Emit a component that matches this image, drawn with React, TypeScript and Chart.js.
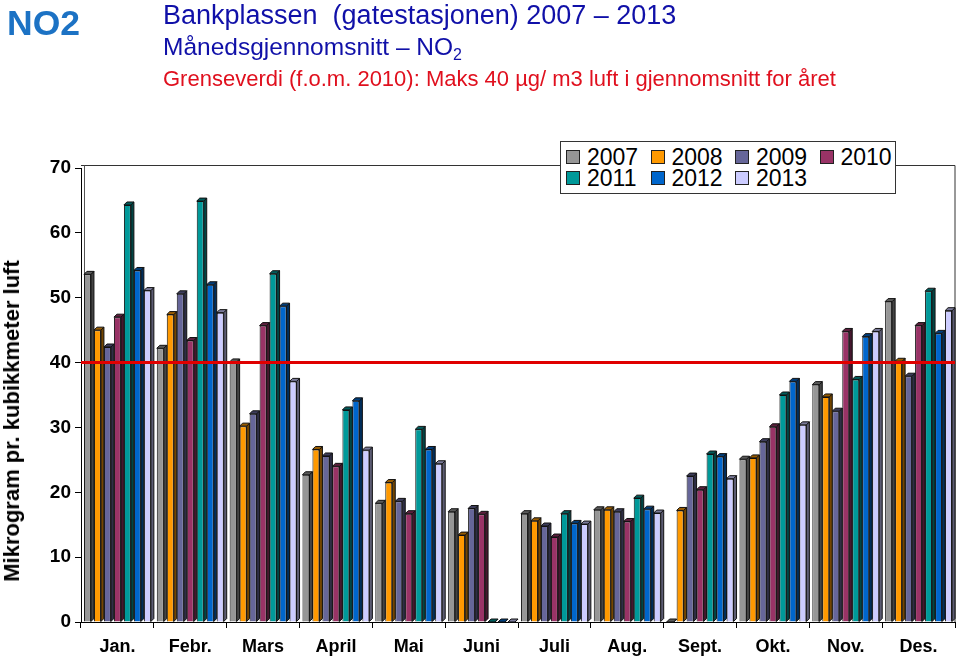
import React, { useEffect, useRef } from "react";
import { Chart, registerables } from "chart.js";

Chart.register(...registerables);

const months = ["Jan.", "Febr.", "Mars", "April", "Mai", "Juni", "Juli", "Aug.", "Sept.", "Okt.", "Nov.", "Des."];
const years = ["2007", "2008", "2009", "2010", "2011", "2012", "2013"];

const v2007 = [53.6, 42.2, 40.1, 22.7, 18.3, 17.0, 16.7, 17.3, 0, 25.1, 36.6, 49.4];
const v2008 = [45.0, 47.4, 30.2, 26.6, 21.5, 13.4, 15.6, 17.3, 17.2, 25.3, 34.7, 40.2];
const v2009 = [42.4, 50.6, 32.1, 25.6, 18.6, 17.5, 14.8, 17.0, 22.5, 27.8, 32.5, 37.9];
const v2010 = [47.0, 43.4, 45.7, 24.0, 16.7, 16.6, 13.1, 15.5, 20.4, 30.1, 44.8, 45.7];
const v2011 = [64.3, 64.9, 53.7, 32.7, 29.7, 0, 16.7, 19.1, 25.9, 35.0, 37.4, 51.0];
const v2012 = [54.2, 52.0, 48.7, 34.1, 26.6, 0, 15.2, 17.4, 25.5, 37.1, 44.0, 44.5];
const v2013 = [51.1, 47.7, 37.1, 26.5, 24.4, 0, 15.1, 16.8, 22.1, 30.4, 44.8, 48.0];

const seriesValues = [v2007, v2008, v2009, v2010, v2011, v2012, v2013];
const seriesColors = ["#969696", "#FF9900", "#666699", "#993366", "#009999", "#0066CC", "#CCCCFF"];

const yMin = 0;
const yMax = 70;
const yStep = 10;
const limitValue = 40;

const FONT = "'Liberation Sans', Arial, Helvetica, sans-serif";
const BAR_PCT = 0.7;

function darken(hex: string, f: number): string {
  const h = hex.replace("#", "");
  const r = Math.round(parseInt(h.slice(0, 2), 16) * f);
  const g = Math.round(parseInt(h.slice(2, 4), 16) * f);
  const b = Math.round(parseInt(h.slice(4, 6), 16) * f);
  return `rgb(${r},${g},${b})`;
}

const bar3d = {
  id: "bar3d",
  afterDatasetDraw(chart: any, args: any) {
    const meta = args.meta;
    if (meta.type !== "bar") return;
    const ctx = chart.ctx;
    const color = chart.data.datasets[args.index].backgroundColor as string;
    const dark = darken(color, 0.6);
    const darker = darken(color, 0.45);
    ctx.save();
    ctx.lineWidth = 1;
    ctx.strokeStyle = "#111";
    ctx.lineJoin = "round";
    meta.data.forEach((el: any) => {
      const p = el.getProps(["x", "y", "base", "width"], true);
      if (p.y == null || isNaN(p.y)) return;
      const w = p.width;
      const d = w * (1 / BAR_PCT - 1);
      const xl = p.x - w / 2;
      const xr = p.x + w / 2;
      ctx.beginPath();
      ctx.moveTo(xr, p.y);
      ctx.lineTo(xr + d, p.y - d);
      ctx.lineTo(xr + d, p.base - d);
      ctx.lineTo(xr, p.base);
      ctx.closePath();
      ctx.fillStyle = darker;
      ctx.fill();
      ctx.stroke();
      ctx.beginPath();
      ctx.moveTo(xl, p.y);
      ctx.lineTo(xl + d, p.y - d);
      ctx.lineTo(xr + d, p.y - d);
      ctx.lineTo(xr, p.y);
      ctx.closePath();
      ctx.fillStyle = dark;
      ctx.fill();
      ctx.stroke();
    });
    ctx.restore();
  },
};

const frameAndLimit = {
  id: "frameAndLimit",
  beforeDatasetsDraw(chart: any) {
    const { ctx, chartArea } = chart;
    ctx.save();
    ctx.strokeStyle = "#333";
    ctx.lineWidth = 1;
    ctx.beginPath();
    ctx.moveTo(chartArea.left, chartArea.top - 2.5);
    ctx.lineTo(chartArea.right, chartArea.top - 2.5);
    ctx.lineTo(chartArea.right, chartArea.bottom);
    ctx.stroke();
    ctx.strokeStyle = "#555";
    ctx.beginPath();
    ctx.moveTo(chartArea.left + 3.5, chartArea.top - 2.5);
    ctx.lineTo(chartArea.left + 3.5, chartArea.bottom - 2);
    ctx.stroke();
    ctx.restore();
  },
  afterDatasetsDraw(chart: any) {
    const { ctx, chartArea, scales } = chart;
    const y = scales.y.getPixelForValue(limitValue);
    ctx.save();
    ctx.strokeStyle = "#E00000";
    ctx.lineWidth = 3;
    ctx.beginPath();
    ctx.moveTo(chartArea.left, y);
    ctx.lineTo(chartArea.right, y);
    ctx.stroke();
    ctx.restore();
  },
};

export default function App() {
  const ref = useRef<HTMLCanvasElement | null>(null);

  useEffect(() => {
    document.body.style.margin = "0";
    if (!ref.current) return;
    Chart.defaults.font.family = FONT;
    const chart = new Chart(ref.current, {
      type: "bar",
      data: {
        labels: months,
        datasets: years.map((yr, i) => ({
          label: yr,
          data: seriesValues[i],
          backgroundColor: seriesColors[i],
          borderColor: "#111",
          borderWidth: 1,
          barPercentage: BAR_PCT,
          categoryPercentage: 0.96,
        })),
      },
      options: {
        responsive: false,
        animation: false,
        devicePixelRatio: 1,
        layout: { padding: { top: 168, right: 5, bottom: 0, left: 0 } },
        plugins: {
          legend: { display: false },
          tooltip: { enabled: false },
        },
        scales: {
          x: {
            grid: { offset: true, drawOnChartArea: false, drawTicks: true, tickLength: 6, color: "#000" },
            border: { display: true, color: "#000", width: 1 },
            ticks: { color: "#000", font: { family: FONT, size: 18, weight: "bold" }, padding: 8, maxRotation: 0, autoSkip: false },
            afterFit: (s: any) => {
              s.height = 34;
            },
          },
          y: {
            min: yMin,
            max: yMax,
            ticks: { stepSize: yStep, color: "#000", font: { family: FONT, size: 19, weight: "bold" }, padding: 4 },
            grid: { drawOnChartArea: false, drawTicks: true, tickLength: 6, color: "#000" },
            border: { display: true, color: "#000", width: 1 },
            title: { display: false },
            afterFit: (s: any) => {
              s.width = 81;
            },
          },
        },
      },
      plugins: [frameAndLimit, bar3d],
    });
    return () => chart.destroy();
  }, []);

  const legendCols = 4;
  return (
    <div style={{ position: "absolute", left: 0, top: 0, width: 960, height: 656, background: "#fff", fontFamily: FONT, overflow: "hidden" }}>
      <canvas ref={ref} width={960} height={656} style={{ position: "absolute", left: 0, top: 0, width: 960, height: 656 }} />
      <div style={{ position: "absolute", left: 7, top: 0, fontSize: 35.5, fontWeight: "bold", color: "#1C72C4", lineHeight: "46px" }}>NO2</div>
      <div style={{ position: "absolute", left: 163, top: 0, fontSize: 27, color: "#1010A8", lineHeight: "30px", whiteSpace: "pre" }}>
        Bankplassen  (gatestasjonen) 2007 – 2013
      </div>
      <div style={{ position: "absolute", left: 163, top: 32.5, fontSize: 24.5, color: "#1010A8", lineHeight: "28px", whiteSpace: "pre" }}>
        Månedsgjennomsnitt – NO<sub style={{ fontSize: 16, verticalAlign: "-5px", lineHeight: 0 }}>2</sub>
      </div>
      <div style={{ position: "absolute", left: 163, top: 66, fontSize: 22, color: "#E0101E", lineHeight: "26px", whiteSpace: "pre" }}>
        Grenseverdi (f.o.m. 2010): Maks 40 µg/ m3 luft i gjennomsnitt for året
      </div>
      <div
        style={{
          position: "absolute",
          left: 12,
          top: 421,
          transform: "translate(-50%, -50%) rotate(-90deg)",
          fontSize: 22,
          fontWeight: "bold",
          color: "#000",
          whiteSpace: "nowrap",
          lineHeight: "26px",
        }}
      >
        Mikrogram pr. kubikkmeter luft
      </div>
      <div
        style={{
          position: "absolute",
          left: 560,
          top: 141,
          width: 336,
          height: 53,
          boxSizing: "border-box",
          border: "1px solid #333",
          background: "#fff",
        }}
      >
        {years.map((yr, i) => {
          const col = i % legendCols;
          const row = Math.floor(i / legendCols);
          return (
            <div
              key={yr}
              style={{
                position: "absolute",
                left: 5 + col * 84.5,
                top: 4 + row * 21,
                height: 22,
                display: "flex",
                alignItems: "center",
                whiteSpace: "nowrap",
              }}
            >
              <span
                style={{
                  display: "inline-block",
                  width: 14,
                  height: 14,
                  boxSizing: "border-box",
                  border: "1px solid #222",
                  background: seriesColors[i],
                  marginRight: 7,
                }}
              />
              <span style={{ fontSize: 23, lineHeight: "22px", color: "#000" }}>{yr}</span>
            </div>
          );
        })}
      </div>
    </div>
  );
}
